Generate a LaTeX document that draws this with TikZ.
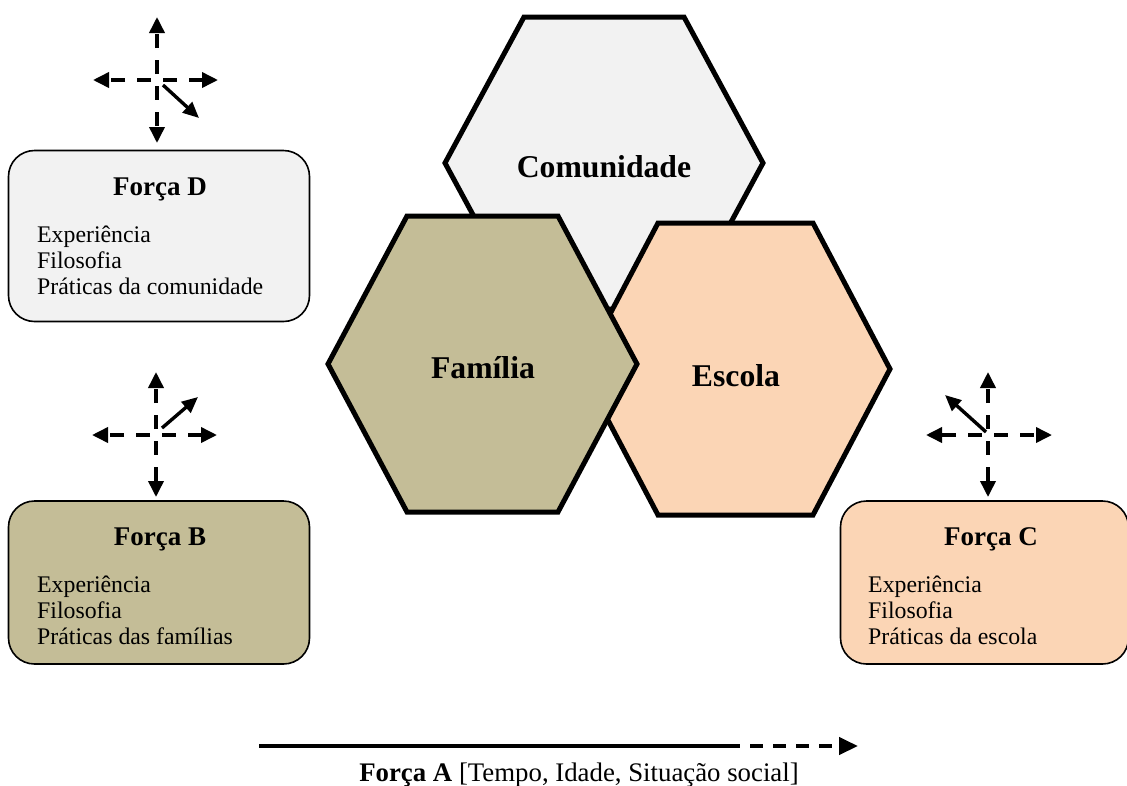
\documentclass[tikz,border=0pt]{standalone}
\usepackage{fontspec}
\setmainfont{Liberation Serif}
\usetikzlibrary{arrows.meta}
\definecolor{greyfill}{HTML}{F2F2F2}
\definecolor{tanfill}{HTML}{C4BD97}
\definecolor{peachfill}{HTML}{FBD5B5}
\tikzset{
  hexa/.style={line width=5pt, line join=miter},
  hexlabel/.style={anchor=base, font=\fontsize{31.7}{36}\selectfont\bfseries, inner sep=0pt},
  forcebox/.style={draw, line width=1.6pt, rounded corners=26pt, inner sep=0pt},
  boxtitle/.style={anchor=base, font=\fontsize{27}{31}\selectfont\bfseries, inner sep=0pt},
  boxitem/.style={anchor=base west, font=\fontsize{23.8}{27}\selectfont, inner sep=0pt},
  arm/.style={line width=3.6pt, dash pattern=on 14pt off 12pt, dash phase=20pt,
    -{Triangle[length=16pt,width=15pt]}},
  diag/.style={line width=3.4pt, -{Triangle[length=16pt,width=14pt]}},
  timeline/.style={line width=4.2pt},
  timedash/.style={line width=4.2pt, dash pattern=on 13pt off 10pt, dash phase=13pt,
    -{Triangle[length=19pt,width=17pt]}}
}
\begin{document}
\begin{tikzpicture}[x=1pt,y=-1pt]
\useasboundingbox (0,0) rectangle (1127,785);
% Comunidade hexagon
\filldraw[hexa, fill=greyfill] (524,17) -- (684,17) -- (763,163) -- (684,309) -- (524,309) -- (445,163) -- cycle;
% Escola hexagon
\filldraw[hexa, fill=peachfill] (658,223) -- (813,223) -- (890,369) -- (813,515) -- (658,515) -- (581,369) -- cycle;
% Familia hexagon
\filldraw[hexa, fill=tanfill] (407,216) -- (558,216) -- (637,364) -- (558,512) -- (407,512) -- (328,364) -- cycle;
\node[hexlabel] (lcom) at (604,177) {Comunidade};
\node[hexlabel] (lfam) at (483,378) {Família};
\node[hexlabel] (lesc) at (736,386) {Escola};

% Forca D box
\node[forcebox, fill=greyfill, minimum width=301pt, minimum height=171pt] (fD) at (159,236) {};
\node[boxtitle] (fDt) at (160,195) {Força D};
\node[boxitem] (fD1) at (37,242) {Experiência};
\node[boxitem] (fD2) at (37,268) {Filosofia};
\node[boxitem] (fD3) at (37,294) {Práticas da comunidade};

% Forca B box
\node[forcebox, fill=tanfill, minimum width=301pt, minimum height=163pt] (fB) at (159,582.5) {};
\node[boxtitle] (fBt) at (160,545) {Força B};
\node[boxitem] (fB1) at (37,592) {Experiência};
\node[boxitem] (fB2) at (37,618) {Filosofia};
\node[boxitem] (fB3) at (37,644) {Práticas das famílias};

% Forca C box
\node[forcebox, fill=peachfill, minimum width=288pt, minimum height=163pt] (fC) at (984.5,582.5) {};
\node[boxtitle] (fCt) at (991,545) {Força C};
\node[boxitem] (fC1) at (868,592) {Experiência};
\node[boxitem] (fC2) at (868,618) {Filosofia};
\node[boxitem] (fC3) at (868,644) {Práticas da escola};

% Cross D
\coordinate (cD) at (157,80);
\coordinate (cDn) at (157,17);
\coordinate (cDs) at (157,143);
\coordinate (cDw) at (93,80);
\coordinate (cDe) at (218,80);
\coordinate (cDd0) at (163,85);
\coordinate (cDd1) at (199,118);
\draw[arm] (cD) -- (cDn);
\draw[arm] (cD) -- (cDs);
\draw[arm] (cD) -- (cDw);
\draw[arm] (cD) -- (cDe);
\draw[diag] (cDd0) -- (cDd1);

% Cross B
\coordinate (cB) at (156,435);
\coordinate (cBn) at (156,372);
\coordinate (cBs) at (156,497);
\coordinate (cBw) at (92,435);
\coordinate (cBe) at (217,435);
\coordinate (cBd0) at (162,428);
\coordinate (cBd1) at (198,397);
\draw[arm] (cB) -- (cBn);
\draw[arm] (cB) -- (cBs);
\draw[arm] (cB) -- (cBw);
\draw[arm] (cB) -- (cBe);
\draw[diag] (cBd0) -- (cBd1);

% Cross C
\coordinate (cC) at (988,435);
\coordinate (cCn) at (988,372);
\coordinate (cCs) at (988,497);
\coordinate (cCw) at (926,435);
\coordinate (cCe) at (1052,435);
\coordinate (cCd0) at (986,432);
\coordinate (cCd1) at (945,395);
\draw[arm] (cC) -- (cCn);
\draw[arm] (cC) -- (cCs);
\draw[arm] (cC) -- (cCw);
\draw[arm] (cC) -- (cCe);
\draw[diag] (cCd0) -- (cCd1);

% Forca A timeline
\coordinate (tA) at (259,746);
\coordinate (tM) at (740,746);
\coordinate (tB) at (858,746);
\draw[timeline] (tA) -- (tM);
\draw[timedash] (tM) -- (tB);
\node[anchor=base, inner sep=0pt, font=\fontsize{26.8}{30}\selectfont] (fA) at (579,781) {\textbf{Força A} [Tempo, Idade, Situação social]};
\end{tikzpicture}
\end{document}
